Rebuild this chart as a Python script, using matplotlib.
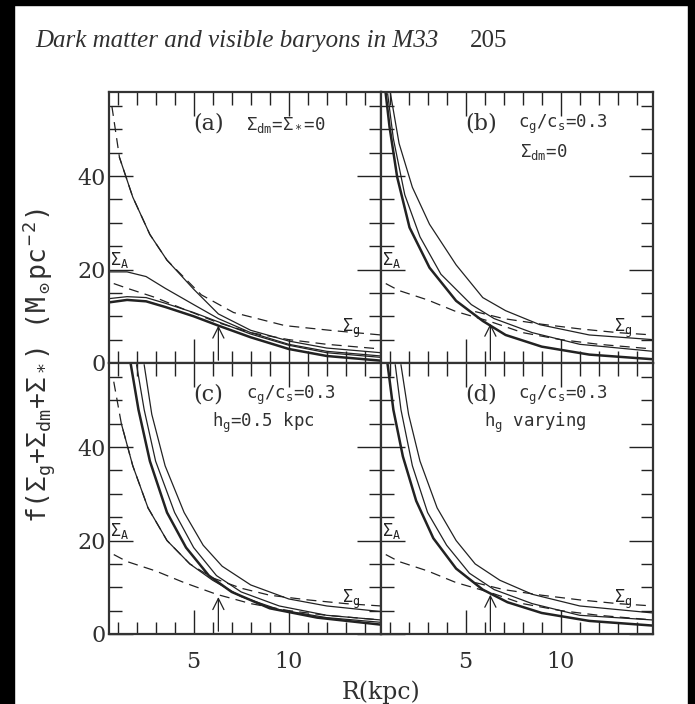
import matplotlib
matplotlib.use("Agg")
import matplotlib.pyplot as plt
from matplotlib.patches import Rectangle
from matplotlib.ticker import MultipleLocator

plt.rcParams["font.family"] = ["DejaVu Serif"]
plt.rcParams["mathtext.fontset"] = "custom"
plt.rcParams["mathtext.rm"] = "DejaVu Sans Mono"
plt.rcParams["mathtext.it"] = "DejaVu Sans Mono"
plt.rcParams["mathtext.bf"] = "DejaVu Sans Mono:bold"

# radial range and axis limits (kpc, Msun/pc^2)
R_MIN, R_MAX = 0.55, 14.85
Y_MAX = 58.0
R_THRESHOLD = 6.3

# ---- panel (a): Sigma_dm = Sigma_* = 0 ----
a_R_sigg = [0.7, 1.1, 1.8, 2.7, 3.6, 5.4, 7.1, 9.8, 12.4, 14.85]
a_V_sigg = [55, 44, 35.5, 27.5, 22, 14.6, 10.8, 8.0, 6.9, 6.0]
a_R_steep = [1.1, 1.8, 2.7, 3.6, 5.0, 6.3, 8.0, 10.0, 12.0, 14.85]
a_V_steep = [44, 35.5, 27.5, 22, 15.8, 10.5, 7.0, 4.7, 3.2, 2.2]
a_R_siga = [0.8, 1.5, 3.0, 4.5, 6.3, 8.0, 10.0, 12.0, 14.85]
a_V_siga = [17.0, 16.0, 14.0, 11.5, 8.6, 6.5, 5.0, 4.0, 3.0]
a_R_thin = [0.6, 1.5, 2.5, 3.5, 5.0, 6.3, 8.0, 10.0, 12.0, 14.85]
a_V_thin = [19.5, 19.5, 18.5, 16.0, 12.5, 9.5, 6.5, 4.0, 2.5, 1.5]
a_R_pair = [0.6, 1.5, 2.5, 3.5, 5.0, 6.3, 8.0, 10.0, 12.0, 14.85]
a_V_pair = [13.8, 14.2, 14.0, 12.8, 10.8, 8.8, 6.2, 3.8, 2.2, 1.2]
a_R_bold = [0.6, 1.5, 2.5, 3.5, 5.0, 6.3, 8.0, 10.0, 12.0, 14.85]
a_V_bold = [13.0, 13.5, 13.2, 12.0, 10.0, 8.0, 5.5, 3.0, 1.5, 0.5]

# ---- panel (b): c_g/c_s = 0.3, Sigma_dm = 0 ----
b_R_out = [1.05, 1.5, 2.2, 3.1, 4.5, 5.9, 7.1, 8.9, 11.5, 14.85]
b_V_out = [57.6, 47, 37.6, 29.7, 21, 14, 11.2, 8.2, 6.0, 5.0]
b_R_mid = [0.9, 1.2, 1.8, 2.6, 3.7, 5.3, 6.5, 8.5, 11.0, 14.85]
b_V_mid = [57.6, 48, 36, 27, 19, 12.5, 9.5, 6.5, 4.0, 2.5]
b_R_bold = [0.8, 1.0, 1.4, 2.05, 3.1, 4.5, 5.9, 7.1, 9.0, 11.5, 14.85]
b_V_bold = [57.6, 50.5, 39.8, 29, 20.4, 13.3, 9.0, 6.0, 3.5, 1.8, 0.8]
b_R_siga = [0.8, 1.5, 3.0, 4.5, 6.2, 8.0, 10.0, 12.0, 14.85]
b_V_siga = [17.0, 15.5, 13.5, 11.0, 9.0, 6.5, 5.0, 4.0, 3.0]
b_R_sigg = [5.5, 7.0, 9.0, 11.0, 13.0, 14.85]
b_V_sigg = [11.0, 9.5, 8.3, 7.3, 6.5, 6.0]

# ---- panel (c): c_g/c_s = 0.3, h_g = 0.5 kpc ----
c_R_out = [2.4, 2.8, 3.5, 4.5, 5.5, 6.5, 8.0, 10.0, 12.0, 14.85]
c_V_out = [57.6, 47, 36, 26, 19, 14.5, 10.5, 7.5, 6.0, 4.8]
c_R_mid = [2.0, 2.4, 3.0, 4.0, 5.0, 6.2, 7.5, 9.5, 12.0, 14.85]
c_V_mid = [57.6, 48, 37, 26, 18.5, 12.5, 9.0, 6.0, 4.0, 3.0]
c_R_bold = [1.7, 2.1, 2.7, 3.6, 4.6, 5.8, 7.0, 9.0, 11.5, 14.85]
c_V_bold = [57.6, 48, 37, 26, 18.5, 12.5, 9.0, 5.5, 3.5, 2.0]
c_R_steep = [1.2, 1.8, 2.6, 3.6, 4.8, 6.0, 7.5, 9.5, 12.0, 14.85]
c_V_steep = [45, 36, 27, 20, 15, 11.5, 8.0, 5.2, 3.5, 2.5]
c_R_siga = [0.8, 1.5, 3.0, 4.5, 6.2, 8.0, 10.0, 12.0, 14.85]
c_V_siga = [17.0, 15.5, 13.5, 11.0, 8.5, 6.5, 5.0, 4.0, 3.0]
c_R_sigg = [0.8, 1.2, 1.8, 2.6, 3.6, 4.8, 6.0, 7.5, 9.0, 11.0, 13.0, 14.85]
c_V_sigg = [54, 45, 36, 27, 20, 15, 12, 9.8, 8.3, 7.3, 6.5, 6.0]

# ---- panel (d): c_g/c_s = 0.3, h_g varying ----
d_R_out = [1.6, 2.0, 2.6, 3.5, 4.5, 5.5, 6.8, 8.5, 11.0, 14.85]
d_V_out = [57.6, 47, 37, 27, 20, 15, 11.5, 8.5, 6.0, 4.5]
d_R_mid = [1.3, 1.6, 2.2, 3.0, 4.0, 5.2, 6.5, 8.5, 11.0, 14.85]
d_V_mid = [57.6, 48, 36, 26, 19, 13, 9.5, 6.5, 4.0, 3.0]
d_R_bold = [0.9, 1.2, 1.7, 2.4, 3.3, 4.5, 5.9, 7.2, 9.0, 11.5, 14.85]
d_V_bold = [57.6, 48, 38, 28.5, 20.5, 14, 9.5, 6.8, 4.5, 2.8, 1.8]
d_R_siga = [0.8, 1.5, 3.0, 4.5, 6.2, 8.0, 10.0, 12.0, 14.85]
d_V_siga = [17.0, 15.5, 13.5, 11.0, 9.0, 6.5, 5.0, 4.0, 3.0]
d_R_sigg = [5.5, 7.0, 9.0, 11.0, 13.0, 14.85]
d_V_sigg = [11.0, 9.5, 8.3, 7.3, 6.5, 6.0]

ARROW_TIP = {"a": 8.6, "b": 9.0, "c": 8.5, "d": 9.0}

panel_tag = {"a": "(a)", "b": "(b)", "c": "(c)", "d": "(d)"}
panel_line1 = {
    "a": r"$\Sigma_{\rm dm}$=$\Sigma_*$=0",
    "b": r"c$_g$/c$_s$=0.3",
    "c": r"c$_g$/c$_s$=0.3",
    "d": r"c$_g$/c$_s$=0.3",
}
panel_line2 = {"a": "", "b": r"$\Sigma_{\rm dm}$=0", "c": r"h$_g$=0.5 kpc", "d": r"h$_g$ varying"}
line2_x = {"a": 0.0, "b": 0.51, "c": 0.38, "d": 0.38}

MONO = "DejaVu Sans Mono"
INK = "#222222"
TXT = "#303030"

fig = plt.figure(figsize=(6.95, 7.04), dpi=100)

# scanned-page border
fig.patches.append(Rectangle((0, 0), 14 / 695, 1, transform=fig.transFigure, color="black", zorder=0))
fig.patches.append(Rectangle((0, 1 - 5 / 704), 1, 5 / 704, transform=fig.transFigure, color="black", zorder=0))
fig.patches.append(Rectangle((1 - 7 / 695, 0), 7 / 695, 1, transform=fig.transFigure, color="black", zorder=0))

fig.text(35 / 695, 1 - 47 / 704, "Dark matter and visible baryons in M33", family="Liberation Serif",
         style="italic", fontsize=18, va="baseline", color=TXT)
fig.text(470 / 695, 1 - 47 / 704, "205", family="Liberation Serif", fontsize=18,
         va="baseline", ha="left", color=TXT)

L, W = 109 / 695, 272 / 695
B, H = 1 - 634 / 704, 271 / 704
rects = {"a": (L, B + H, W, H), "b": (L + W, B + H, W, H),
         "c": (L, B, W, H), "d": (L + W, B, W, H)}

curves = {
    "a": [(a_R_sigg, a_V_sigg, "--", 0.9), (a_R_steep, a_V_steep, "-", 0.9),
          (a_R_siga, a_V_siga, "--", 0.9), (a_R_thin, a_V_thin, "-", 0.9),
          (a_R_pair, a_V_pair, "-", 0.9), (a_R_bold, a_V_bold, "-", 1.8)],
    "b": [(b_R_out, b_V_out, "-", 0.9), (b_R_mid, b_V_mid, "-", 0.9),
          (b_R_bold, b_V_bold, "-", 1.8), (b_R_siga, b_V_siga, "--", 0.9),
          (b_R_sigg, b_V_sigg, "--", 0.9)],
    "c": [(c_R_out, c_V_out, "-", 0.9), (c_R_mid, c_V_mid, "-", 0.9),
          (c_R_bold, c_V_bold, "-", 1.8), (c_R_steep, c_V_steep, "-", 0.9),
          (c_R_siga, c_V_siga, "--", 0.9), (c_R_sigg, c_V_sigg, "--", 0.9)],
    "d": [(d_R_out, d_V_out, "-", 0.9), (d_R_mid, d_V_mid, "-", 0.9),
          (d_R_bold, d_V_bold, "-", 1.8), (d_R_siga, d_V_siga, "--", 0.9),
          (d_R_sigg, d_V_sigg, "--", 0.9)],
}

for key, rect in rects.items():
    ax = fig.add_axes(rect)
    for R, V, ls, lw in curves[key]:
        if ls == "--":
            ax.plot(R, V, lw=lw, color=INK, dashes=(8, 5))
        else:
            ax.plot(R, V, lw=lw, color=INK)
    ax.set_xlim(R_MIN, R_MAX)
    ax.set_ylim(0, Y_MAX)
    ax.xaxis.set_major_locator(MultipleLocator(5))
    ax.xaxis.set_minor_locator(MultipleLocator(1))
    ax.yaxis.set_major_locator(MultipleLocator(20))
    ax.yaxis.set_minor_locator(MultipleLocator(5))
    ax.tick_params(which="both", direction="in", top=True, right=True, color=INK, width=1.0)
    ax.tick_params(which="major", length=17)
    ax.tick_params(which="minor", length=9)
    ax.tick_params(labelsize=16, labelcolor=TXT)
    ax.tick_params(axis="y", pad=2)
    ax.tick_params(axis="x", pad=12)
    for s in ax.spines.values():
        s.set_linewidth(1.6)
        s.set_color("#333333")
    if key in ("b", "d"):
        ax.tick_params(labelleft=False)
    if key in ("a", "b"):
        ax.tick_params(labelbottom=False)
    # threshold-radius arrow
    ax.annotate("", xy=(R_THRESHOLD, ARROW_TIP[key]), xytext=(R_THRESHOLD, 0),
                arrowprops=dict(arrowstyle="->,head_length=0.8,head_width=0.4", lw=0.9, color=INK))
    ax.text(0.6, 21.0, r"$\Sigma_{\rm A}$", fontsize=12, color=INK)
    ax.text(12.8, 6.6, r"$\Sigma_{\rm g}$", fontsize=12, color=INK)
    ax.text(0.31, 0.885, panel_tag[key], transform=ax.transAxes, va="center", ha="left",
            fontsize=16, color=TXT)
    ax.text(0.505, 0.88, panel_line1[key], transform=ax.transAxes, va="center", ha="left",
            fontsize=12.5, color=TXT, family=MONO)
    if panel_line2[key]:
        ax.text(line2_x[key], 0.78, panel_line2[key], transform=ax.transAxes, va="center",
                ha="left", fontsize=12.5, color=TXT, family=MONO)

fig.text(381 / 695, 1 - 699 / 704, "R(kpc)", ha="center", va="baseline", fontsize=17, color=TXT)
fig.text(39 / 695, 1 - 365 / 704,
         r"f($\Sigma_{\rm g}$+$\Sigma_{\rm dm}$+$\Sigma_*$) (M$_\odot$pc$^{\rm -2}$)",
         rotation=90, ha="center", va="center", fontsize=19, color=TXT, family=MONO)

fig.savefig("out.png", dpi=100)
